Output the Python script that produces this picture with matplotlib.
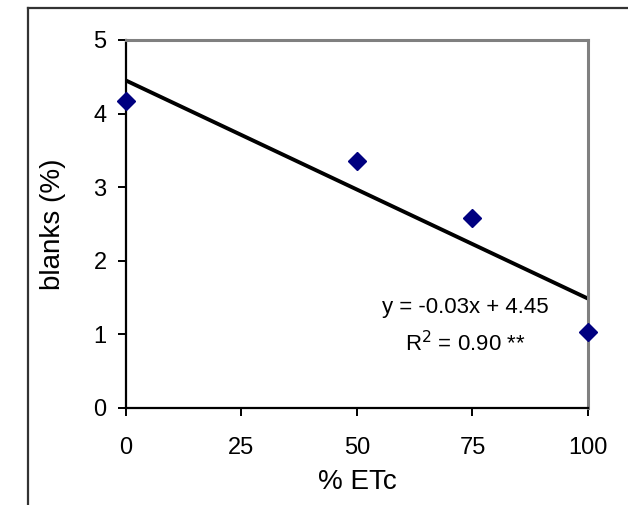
import numpy as np
import matplotlib
matplotlib.use("Agg")
import matplotlib.pyplot as plt
from matplotlib.lines import Line2D

plt.rcParams["font.family"] = ["Liberation Sans", "DejaVu Sans"]

# data
etc = [0, 50, 75, 100]
blanks = [4.17, 3.35, 2.58, 1.03]
xticks = [0, 25, 50, 75, 100]
yticks = [0, 1, 2, 3, 4, 5]

slope, intercept = np.polyfit(etc, blanks, 1)

fig = plt.figure(figsize=(6.28, 5.05), dpi=100)
ax = fig.add_axes([0.2006, 0.1921, 0.7357, 0.7287])

# outer frame (only left and top edges show)
fig.add_artist(Line2D([28 / 628, 28 / 628], [0, 1 - 8 / 505], color="#333333", lw=1.6))
fig.add_artist(Line2D([28 / 628, 1], [1 - 8 / 505, 1 - 8 / 505], color="#333333", lw=1.6))

xs = np.array([0, 100])
ax.plot(xs, intercept + slope * xs, color="black", lw=2.8, solid_capstyle="butt", zorder=2)
ax.plot(etc, blanks, linestyle="none", marker="D", color="#000080", markersize=9,
        clip_on=False, zorder=3)

ax.set_xlim(0, 100)
ax.set_ylim(0, 5)
ax.set_xticks(xticks)
ax.set_yticks(yticks)

ax.spines["top"].set_color("#808080")
ax.spines["right"].set_color("#808080")
ax.spines["top"].set_linewidth(2.2)
ax.spines["right"].set_linewidth(2.2)
ax.spines["left"].set_linewidth(1.6)
ax.spines["bottom"].set_linewidth(1.6)

ax.tick_params(direction="out", length=6, width=1.4, labelsize=17)
ax.tick_params(axis="x", pad=15)
ax.tick_params(axis="y", pad=8)

ax.set_xlabel("% ETc", fontsize=20)
ax.set_ylabel("blanks (%)", fontsize=20)
ax.xaxis.set_label_coords(0.5, -0.165)
ax.yaxis.set_label_coords(-0.13, 0.5)

ax.text(73.4, 1.36, "y = -0.03x + 4.45", fontsize=16, ha="center", va="center")
ax.text(73.4, 0.88, "R$^2$ = 0.90 **", fontsize=16, ha="center", va="center")

fig.savefig("out.png", dpi=100)
